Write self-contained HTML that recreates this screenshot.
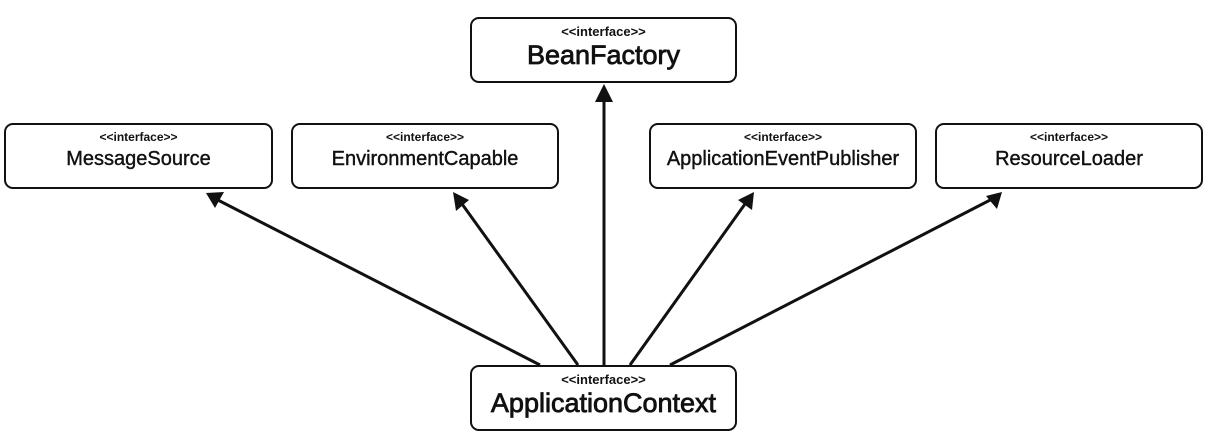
<!DOCTYPE html>
<html><head><meta charset="utf-8"><style>
body{margin:0;width:1208px;height:441px;background:#fff;position:relative;overflow:hidden;font-family:"Liberation Sans",sans-serif;color:#111}
.b{position:absolute;border:2.5px solid #111;border-radius:9px;box-sizing:border-box;text-align:center;background:#fff}
.s{font-weight:bold;font-size:12px;margin-top:5px;line-height:14px}
.n{font-size:20px;line-height:24px;margin-top:3px;-webkit-text-stroke:0.4px #111}
.big .s{font-size:13px;margin-top:6px}
.big .n{font-size:27px;line-height:32px;margin-top:0px;-webkit-text-stroke:0.8px #111}
svg{position:absolute;left:0;top:0}
</style></head><body>
<svg width="1208" height="441">
<g stroke="#111" stroke-width="3" fill="none">
<line x1="540" y1="365" x2="212" y2="197"/>
<line x1="578" y1="365" x2="457" y2="197"/>
<line x1="604" y1="365" x2="604" y2="90"/>
<line x1="630" y1="365" x2="750" y2="197"/>
<line x1="670" y1="365" x2="996" y2="197"/>
</g>
<g fill="#111">
<polygon points="206,193 224,192 215,208"/>
<polygon points="453,192 469,200 456,211"/>
<polygon points="604,84 595,102 613,102"/>
<polygon points="754,192 752,210 738,200"/>
<polygon points="1002,192 997,209 986,196"/>
</g>
</svg>
<div class="b big" style="left:470px;top:17px;width:267px;height:66px"><div class="s">&lt;&lt;interface&gt;&gt;</div><div class="n">BeanFactory</div></div>
<div class="b" style="left:4px;top:123px;width:269px;height:66px"><div class="s">&lt;&lt;interface&gt;&gt;</div><div class="n">MessageSource</div></div>
<div class="b" style="left:291px;top:123px;width:268px;height:66px"><div class="s">&lt;&lt;interface&gt;&gt;</div><div class="n">EnvironmentCapable</div></div>
<div class="b" style="left:649px;top:123px;width:268px;height:66px"><div class="s">&lt;&lt;interface&gt;&gt;</div><div class="n">ApplicationEventPublisher</div></div>
<div class="b" style="left:935px;top:123px;width:268px;height:66px"><div class="s">&lt;&lt;interface&gt;&gt;</div><div class="n">ResourceLoader</div></div>
<div class="b big" style="left:470px;top:365px;width:267px;height:66px"><div class="s">&lt;&lt;interface&gt;&gt;</div><div class="n">ApplicationContext</div></div>
</body></html>
